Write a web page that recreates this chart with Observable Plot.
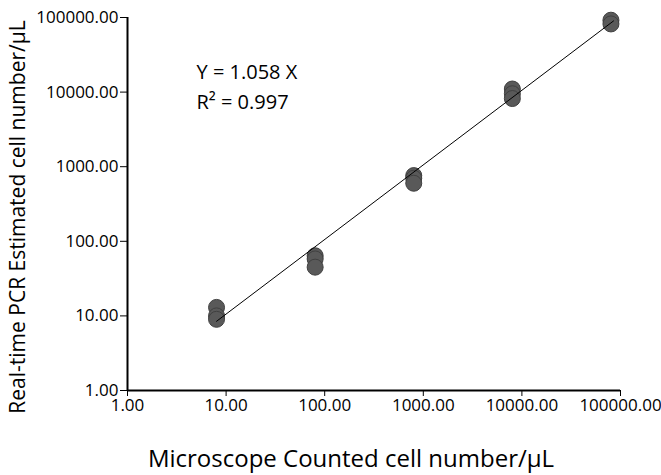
<!DOCTYPE html>
<html><head><meta charset="utf-8">
<script src="https://cdn.jsdelivr.net/npm/d3@7"></script>
<script src="https://cdn.jsdelivr.net/npm/@observablehq/plot@0.6"></script>
<style>body{margin:0;background:#fff;font-family:"Open Sans",sans-serif}</style>
</head><body><div id="chart"></div>
<script>
const counted = [8,8,8, 80,80,80, 800,800,800, 8000,8000,8000, 80000,80000];
const estimated = [13,10,9, 64,58,45, 760,700,600, 11000,9500,8200, 92000,82000];
const tickValues = [1,10,100,1000,10000,100000];
const slope = 1.058;
const fitRange = [8, 85000];
const equation = ["Y = 1.058 X", "R² = 0.997"];
const xLabel = "Microscope Counted cell number/µL";
const yLabel = "Real-time PCR Estimated cell number/µL";

const pts = counted.map((c,i)=>({x:c,y:estimated[i]}));
const fit = fitRange.map(x=>({x, y: slope*x}));
const fmt = d3.format(".2f");

const chart = Plot.plot({
  width: 661, height: 475,
  marginLeft: 127, marginTop: 17, marginBottom: 85, marginRight: 41,
  style: {fontFamily: "Open Sans", fontSize: "17px", color: "#000", background: "#fff"},
  x: {type: "log", domain: [1,100000]},
  y: {type: "log", domain: [1,100000]},
  marks: [
    Plot.axisX({ticks: tickValues, tickFormat: fmt, tickSize: 6, tickPadding: 2, fontSize: 17, label: null}),
    Plot.axisY({ticks: tickValues, tickFormat: fmt, tickSize: 7, tickPadding: 2, fontSize: 17, label: null}),
    Plot.text([xLabel], {frameAnchor: "bottom", dx: -23, dy: 69, text: d=>d, fontSize: 24, lineAnchor: "middle", textAnchor: "middle", fill: "#000"}),
    Plot.text([yLabel], {frameAnchor: "left", dx: -109, dy: 13, rotate: -90, text: d=>d, fontSize: 21, lineAnchor: "middle", textAnchor: "middle", fill: "#000"}),
    Plot.ruleX([1], {stroke: "#000", strokeWidth: 2}),
    Plot.ruleY([1], {stroke: "#000", strokeWidth: 2}),
    Plot.dot(pts, {x: "x", y: "y", r: 8, fill: "#595959", stroke: "#404040", strokeWidth: 1}),
    Plot.line(fit, {x: "x", y: "y", stroke: "#000", strokeWidth: 1}),
    Plot.text([equation.join("\n")], {frameAnchor: "top-left", dx: 69, dy: 40, text: d=>d, fontSize: 20, lineHeight: 1.5, textAnchor: "start", fill: "#000"})
  ]
});
document.getElementById("chart").appendChild(chart);
</script></body></html>
